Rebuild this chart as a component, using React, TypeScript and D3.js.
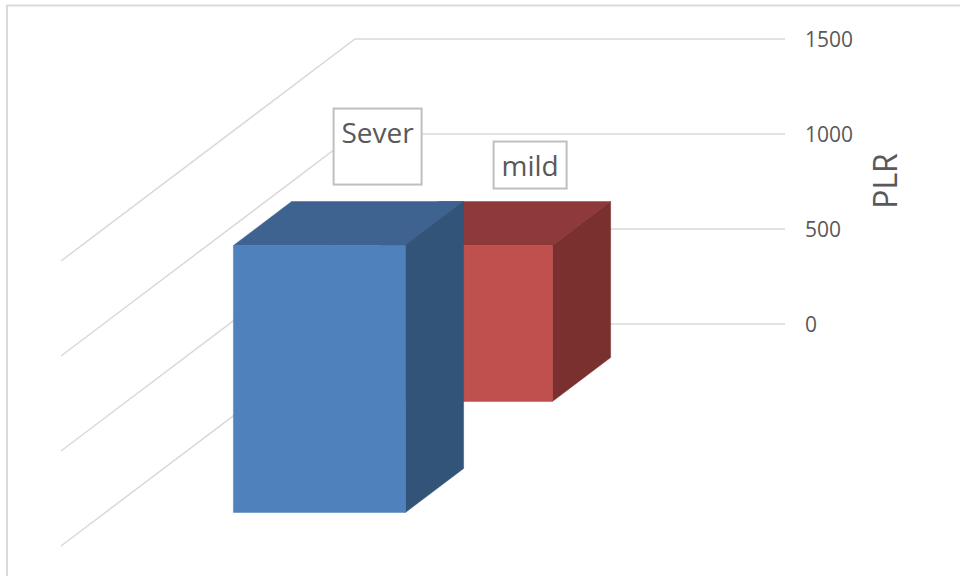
import React from "react";
import * as d3 from "d3";

// PLR by disease severity, drawn as a 3-D column chart
const categories = ["PLR"];
const seriesNames = ["mild", "Sever"];
const seriesValues = [821, 1405];
const tickValues = [0, 500, 1000, 1500];

const FONT = "'Open Sans', sans-serif";
const TEXT = "#595959";
const GRID = "#d9d9d9";

const palettes: Record<string, { front: string; top: string; side: string }> = {
  mild: { front: "#c0504d", top: "#8f3a3a", side: "#7a302f" },
  Sever: { front: "#4f81bd", top: "#3e6390", side: "#325479" },
};

// Label boxes sit relative to the top-back-left corner of each column
const labelBoxes: Record<string, { dx: number; dy: number; w: number; h: number; tx: number; ty: number }> = {
  mild: { dx: 55, dy: -60, w: 73, h: 47, tx: 36.5, ty: 34 },
  Sever: { dx: 42, dy: -93, w: 88, h: 76, tx: 44, ty: 34 },
};

const WALL_LEFT = 355;
const WALL_RIGHT = 785;

const y = d3.scaleLinear().domain([0, 1500]).range([324, 39]);
const x = d3.scaleBand<string>().domain(categories).range([WALL_LEFT - 1, WALL_RIGHT - 1]).paddingInner(0).paddingOuter(0.75);
// Depth runs from the back wall (0) to the front edge of the floor (1)
const depthX = d3.scaleLinear().domain([0, 1]).range([0, -294]);
const depthY = d3.scaleLinear().domain([0, 1]).range([0, 222]);
const depth = d3.scaleBand<string>().domain(seriesNames).range([0, 1]);

const BAR_DEPTH = 0.198;

const poly = (pts: [number, number][]) => d3.line()(pts) + "Z";

function project(px: number, value: number, d: number): [number, number] {
  return [px + depthX(d), y(value) + depthY(d)];
}

function Face({ pts, fill }: { pts: [number, number][]; fill: string }) {
  return <path d={poly(pts)} fill={fill} stroke={fill} strokeWidth={0.5} />;
}

function Column({ name, value }: { name: string; value: number }) {
  const x0 = x(categories[0])!;
  const x1 = x0 + x.bandwidth();
  const mid = depth(name)! + depth.bandwidth() / 2;
  const dBack = mid - BAR_DEPTH / 2;
  const dFront = mid + BAR_DEPTH / 2;
  const c = palettes[name];
  return (
    <g>
      <Face
        pts={[project(x0, value, dBack), project(x1, value, dBack), project(x1, value, dFront), project(x0, value, dFront)]}
        fill={c.top}
      />
      <Face
        pts={[project(x1, value, dBack), project(x1, 0, dBack), project(x1, 0, dFront), project(x1, value, dFront)]}
        fill={c.side}
      />
      <Face
        pts={[project(x0, value, dFront), project(x1, value, dFront), project(x1, 0, dFront), project(x0, 0, dFront)]}
        fill={c.front}
      />
    </g>
  );
}

function DataLabel({ name, value }: { name: string; value: number }) {
  const x0 = x(categories[0])!;
  const mid = depth(name)! + depth.bandwidth() / 2;
  const corner = project(x0, value, mid - BAR_DEPTH / 2);
  const box = labelBoxes[name];
  return (
    <g transform={`translate(${corner[0] + box.dx},${corner[1] + box.dy})`}>
      <rect x={0} y={0} width={box.w} height={box.h} fill="#ffffff" stroke="#bfbfbf" strokeWidth={2} />
      <text x={box.tx} y={box.ty} textAnchor="middle" fontFamily={FONT} fontSize={28} fill={TEXT}>
        {name}
      </text>
    </g>
  );
}

export default function App() {
  return (
    <svg
      width={960}
      height={576}
      viewBox="0 0 960 576"
      style={{ position: "absolute", left: 0, top: 0, background: "#ffffff" }}
    >
      <path d="M7 576V5.5H960" fill="none" stroke={GRID} strokeWidth={2} />

      {tickValues.map((t) => {
        const front = project(WALL_LEFT, t, 1);
        return (
          <g key={t}>
            <path
              d={d3.line()([front, [WALL_LEFT, y(t)], [WALL_RIGHT, y(t)]])!}
              fill="none"
              stroke={GRID}
              strokeWidth={1.5}
            />
            <text x={805} y={y(t) + 8} fontFamily={FONT} fontSize={21} fill={TEXT}>
              {t}
            </text>
          </g>
        );
      })}

      <text
        transform="translate(897,181) rotate(-90)"
        textAnchor="middle"
        fontFamily={FONT}
        fontSize={32}
        fill={TEXT}
      >
        {categories[0]}
      </text>

      {seriesNames.map((name, i) => (
        <Column key={name} name={name} value={seriesValues[i]} />
      ))}
      {seriesNames.map((name, i) => (
        <DataLabel key={name} name={name} value={seriesValues[i]} />
      ))}
    </svg>
  );
}
